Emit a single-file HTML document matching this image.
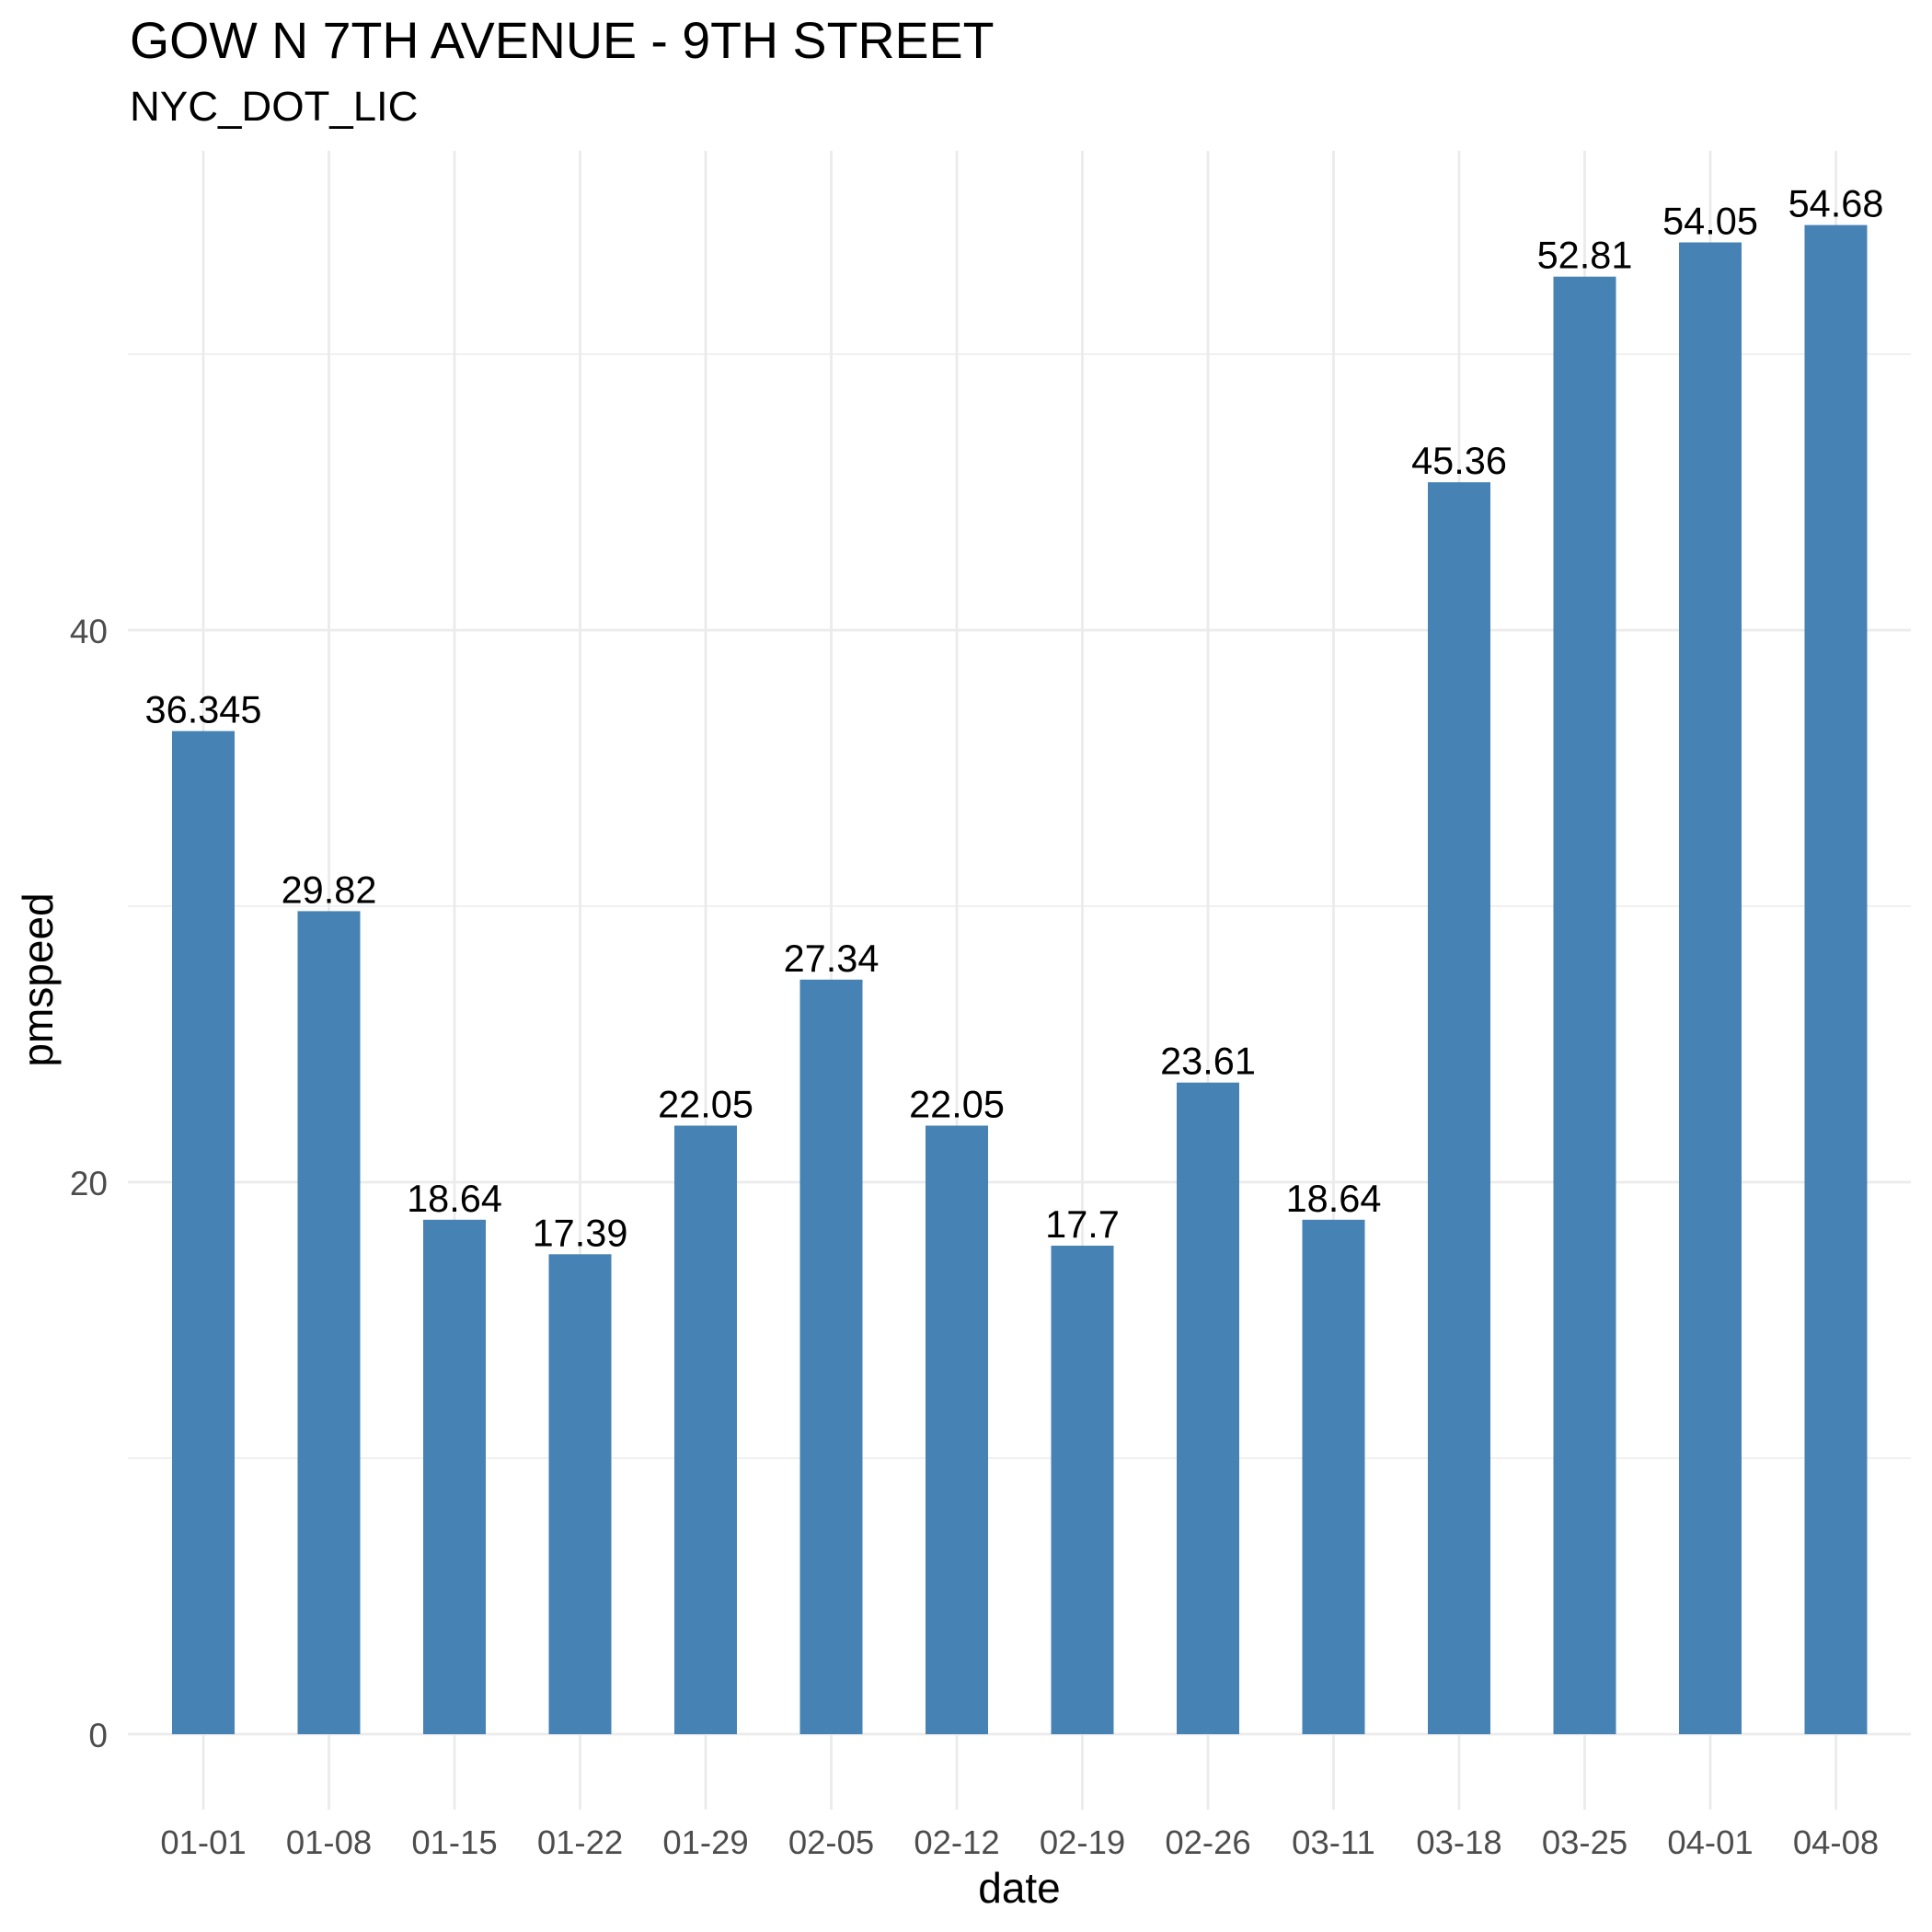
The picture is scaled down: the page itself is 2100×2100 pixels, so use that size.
<!DOCTYPE html>
<html><head><meta charset="utf-8"><style>
html,body{margin:0;padding:0;background:#fff}
svg{display:block;font-family:"Liberation Sans",Arial,sans-serif}
</style></head><body>
<svg id="chart" width="2100" height="2100" viewBox="0 0 2100 2100" xmlns="http://www.w3.org/2000/svg">
<rect width="2100" height="2100" fill="#fff"/>
<text x="141" y="63" font-size="55.5" fill="#000">GOW N 7TH AVENUE - 9TH STREET</text>
<text x="141" y="131" font-size="45.5" fill="#000">NYC_DOT_LIC</text>
<g id="grid"></g><g id="bars"></g><g id="labels"></g><g id="xticks"></g><g id="yticks"></g>
<text x="1108" y="2068" font-size="46" text-anchor="middle" fill="#000">date</text>
<text transform="translate(57,1065) rotate(-90)" font-size="46" text-anchor="middle" fill="#000">pmspeed</text>
</svg>
<script>
const categories = ["01-01","01-08","01-15","01-22","01-29","02-05","02-12","02-19","02-26","03-11","03-18","03-25","04-01","04-08"];
const values = [36.345,29.82,18.64,17.39,22.05,27.34,22.05,17.7,23.61,18.64,45.36,52.81,54.05,54.68];
const valueLabels = ["36.345","29.82","18.64","17.39","22.05","27.34","22.05","17.7","23.61","18.64","45.36","52.81","54.05","54.68"];
const majorTicks = [0,20,40];
const minorTicks = [10,30,50];

const NS="http://www.w3.org/2000/svg";
const panelL=139, panelR=2077, panelT=164, panelB=1967;
const x0=221, step=136.5, barW=68;
function xPos(i){return x0+i*step;}
function yPos(v){return 1885-30*v;}
function mk(tag,attrs,parent){const e=document.createElementNS(NS,tag);for(const k in attrs)e.setAttribute(k,attrs[k]);document.getElementById(parent).appendChild(e);return e;}

minorTicks.forEach(t=>{
  const l=mk('line',{x1:panelL,x2:panelR,y1:yPos(t),y2:yPos(t),stroke:'#EBEBEB','stroke-width':1.4},'grid');
  
  
});
majorTicks.forEach(t=>{
  const l=mk('line',{x1:panelL,x2:panelR,y1:yPos(t),y2:yPos(t),stroke:'#EBEBEB','stroke-width':2.8},'grid');
  
  
  const tx=mk('text',{x:117,y:yPos(t)+14,'font-size':37,'text-anchor':'end',fill:'#4D4D4D'},'yticks');
  tx.textContent=String(t);
  
  
});
categories.forEach((c,i)=>{
  const g=mk('line',{x1:xPos(i),x2:xPos(i),y1:panelT,y2:panelB,stroke:'#EBEBEB','stroke-width':2.8},'grid');
  
  
  const v=values[i];
  const r=mk('rect',{x:xPos(i)-barW/2,y:yPos(v),width:barW,height:yPos(0)-yPos(v),fill:'#4682B4'},'bars');
  
  
  const lb=mk('text',{x:xPos(i),y:yPos(v)-9,'font-size':41.5,'text-anchor':'middle',fill:'#000'},'labels');
  lb.textContent=valueLabels[i];
  
  
  const tk=mk('text',{x:xPos(i),y:2015,'font-size':36.5,'text-anchor':'middle',fill:'#4D4D4D'},'xticks');
  tk.textContent=c;
  
  
});
</script>
</body></html>
